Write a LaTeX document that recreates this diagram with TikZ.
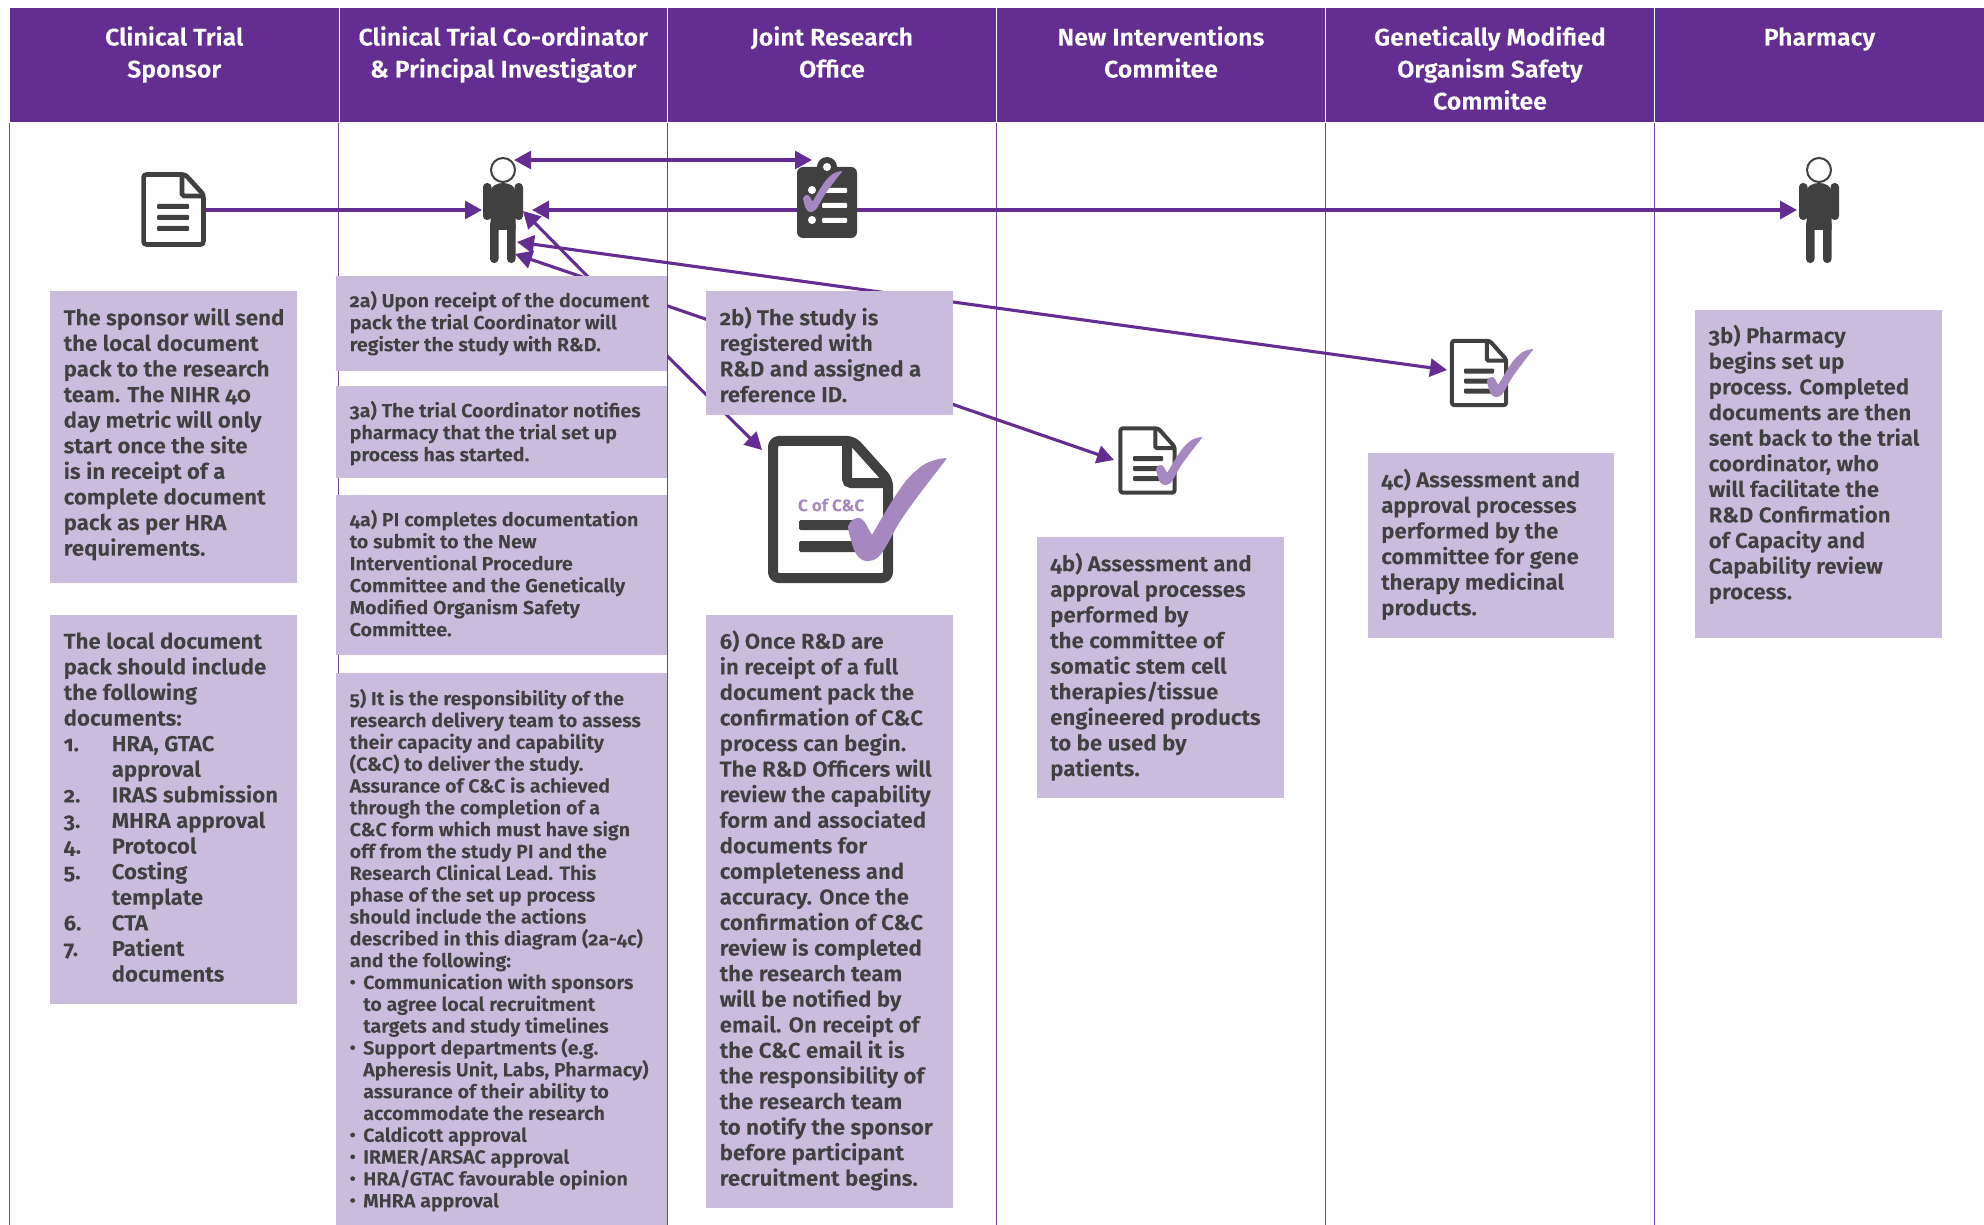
\documentclass[tikz,border=0pt]{standalone}
\usepackage{fontspec}
\setmainfont{Fira Sans}[Numbers=OldStyle,UprightFont=* SemiBold,FakeStretch=1.035,FakeBold=0.12]
\usetikzlibrary{arrows.meta}
\definecolor{hdr}{HTML}{642D91}
\definecolor{pan}{HTML}{C9BCDC}
\definecolor{ink}{HTML}{404040}
\definecolor{grid}{HTML}{6F45A0}
\definecolor{chk}{HTML}{A488BF}
\pgfdeclarelayer{back}\pgfdeclarelayer{gridl}
\pgfsetlayers{gridl,back,main}
\tikzset{
 panelbox/.style={fill=pan,anchor=north west,inner sep=0pt,text=ink},
 headbox/.style={fill=hdr,draw=white,line width=1pt,anchor=north west,inner sep=0pt,text=white},
 flow/.style={draw=hdr,line width=3.1pt,-{Triangle[length=17pt,width=18pt]}},
 flowb/.style={draw=hdr,line width=3.1pt,{Triangle[length=17pt,width=18pt]}-{Triangle[length=17pt,width=18pt]}},
 gridline/.style={draw=grid,line width=1pt},
}
\newcommand\panelnode[9]{\node[panelbox] (#1) at (#2,#3) {\parbox[t][\dimexpr #5pt-#3pt\relax][t]{\dimexpr #4pt-#2pt\relax}{\fontsize{#8pt}{#7pt}\selectfont\parindent=0pt\leftskip=13.5pt\rightskip=-40pt plus 1fil\relax\vspace*{\dimexpr #6pt-#3pt-#7pt\relax}\prevdepth=0pt #9}};}
\newcommand\headnode[4]{\node[headbox] (#1) at (#2,7) {\parbox[t][115pt][t]{\dimexpr #3pt-#2pt\relax}{\fontsize{24pt}{32pt}\selectfont\centering\vspace*{6pt}\prevdepth=0pt #4}};}
\newcommand\numit[1]{\makebox[48pt][l]{#1}}
\newcommand\numin{\hspace*{48pt}}
\newcommand\bulit{\makebox[13.5pt][l]{\raisebox{1pt}{\fontsize{17pt}{17pt}\selectfont•}}}
\newcommand\bulin{\hspace*{13.5pt}}
\newcommand\docicon[5]{%
 \begin{scope}[shift={(#1,#2)},xscale=#3,yscale=#4]
  \draw[draw=ink,fill=white,line width=#5pt,line join=round,rounded corners=#5*.6pt] (.04,.034)--(.68,.034)--(.96,.30)--(.96,.966)--(.04,.966)--cycle;
  \draw[draw=ink,line width=#5pt,rounded corners=#5*.4pt] (.632,.034)--(.632,.32)--(.96,.32);
 \end{scope}}
\newcommand\checkm[4]{%
 \begin{scope}[shift={(#1,#2)},xscale=#3,yscale=#4]
  \fill[chk] (0,.665) .. controls (.02,.6) and (.09,.57) .. (.125,.585) .. controls (.17,.6) and (.2,.68) .. (.245,.746) .. controls (.35,.58) and (.55,.22) .. (.7,.12) .. controls (.77,.05) and (.88,.01) .. (1,0) -- (1,.016) .. controls (.85,.2) and (.6,.5) .. (.5,.665) .. controls (.42,.8) and (.37,.9) .. (.33,.94) .. controls (.28,1) and (.22,1) .. (.19,1) .. controls (.12,1) and (.06,.92) .. (.04,.826) .. controls (.02,.76) and (0,.7) .. (0,.665) -- cycle;
 \end{scope}}
\newcommand\person[2]{%
 \begin{scope}[shift={(#1,#2)}]
  \draw[draw=ink,fill=white,line width=2pt] (0,-40) circle[x radius=12,y radius=12];
  \fill[ink] (-12.5,20) -- (-12.5,-18) .. controls (-12.5,-24) and (-6,-27) .. (0,-27) .. controls (6,-27) and (12.5,-24) .. (12.5,-18) -- (12.5,20) -- cycle;
  \fill[ink,rounded corners=4pt] (-20,-27) rectangle (-11.5,10);
  \fill[ink,rounded corners=4pt] (11.5,-27) rectangle (20,10);
  \fill[ink,rounded corners=4pt] (-13,10) rectangle (-4.5,53);
  \fill[ink,rounded corners=4pt] (4,10) rectangle (12.5,53);
 \end{scope}}
\begin{document}
\begin{tikzpicture}[x=1pt,y=-1pt]
\useasboundingbox (0,0) rectangle (1984,1225);
\headnode{h1}{9}{338.5}{Clinical Trial\\Sponsor}
\headnode{h2}{338.5}{667}{Clinical Trial Co-ordinator\\\& Principal Investigator}
\headnode{h3}{667}{996}{Joint Research\\Office}
\headnode{h4}{996}{1325}{New Interventions\\Commitee}
\headnode{h5}{1325}{1654}{Genetically Modified\\Organism Safety\\Commitee}
\headnode{h6}{1654}{1984}{Pharmacy}
\panelnode{s1}{50}{291}{297}{583}{325}{25.6}{21.5}{The sponsor will send\\the local document\\pack to the research\\team. The NIHR 40\\day metric will only\\start once the site\\is in receipt of a\\complete document\\pack as per HRA\\requirements.}
\panelnode{s2}{50}{615}{297}{1004}{648.5}{25.6}{21.5}{The local document\\pack should include\\the following\\documents:\\\numit{1.}HRA, GTAC\\\numin approval\\\numit{2.}IRAS submission\\\numit{3.}MHRA approval\\\numit{4.}Protocol\\\numit{5.}Costing\\\numin template\\\numit{6.}CTA\\\numit{7.}Patient\\\numin documents}
\panelnode{a2}{336}{276}{667}{370.5}{307}{22}{19}{2a) Upon receipt of the document\\pack the trial Coordinator will\\register the study with R\&D.}
\panelnode{a3}{336}{386}{667}{477.5}{417}{22}{19}{3a) The trial Coordinator notifies\\pharmacy that the trial set up\\process has started.}
\panelnode{a4}{336}{495}{667}{654.5}{526}{22}{19}{4a) PI completes documentation\\to submit to the New\\Interventional Procedure\\Committee and the Genetically\\Modified Organism Safety\\Committee.}
\panelnode{a5}{336}{672.5}{667}{1225}{705}{21.83}{19}{5) It is the responsibility of the\\research delivery team to assess\\their capacity and capability\\(C\&C) to deliver the study.\\Assurance of C\&C is achieved\\through the completion of a\\C\&C form which must have sign\\off from the study PI and the\\Research Clinical Lead. This\\phase of the set up process\\should include the actions\\described in this diagram (2a-4c)\\and the following:\\\bulit Communication with sponsors\\\bulin to agree local recruitment\\\bulin targets and study timelines\\\bulit Support departments (e.g.\\\bulin Apheresis Unit, Labs, Pharmacy)\\\bulin assurance of their ability to\\\bulin accommodate the research\\\bulit Caldicott approval\\\bulit IRMER/ARSAC approval\\\bulit HRA/GTAC favourable opinion\\\bulit MHRA approval}
\panelnode{b2}{706}{291}{953}{415}{325}{25.6}{21.5}{2b) The study is\\registered with\\R\&D and assigned a\\reference ID.}
\panelnode{b6}{706}{615}{953}{1207.5}{648.5}{25.57}{21.5}{6) Once R\&D are\\in receipt of a full\\document pack the\\confirmation of C\&C\\process can begin.\\The R\&D Officers will\\review the capability\\form and associated\\documents for\\completeness and\\accuracy. Once the\\confirmation of C\&C\\review is completed\\the research team\\will be notified by\\email. On receipt of\\the C\&C email it is\\the responsibility of\\the research team\\to notify the sponsor\\before participant\\recruitment begins.}
\panelnode{n4}{1036.5}{537}{1283.5}{797.5}{571}{25.6}{21.5}{4b) Assessment and\\approval processes\\performed by\\the committee of\\somatic stem cell\\therapies/tissue\\engineered products\\to be used by\\patients.}
\panelnode{g4}{1367.5}{453}{1614}{638}{487}{25.6}{21.5}{4c) Assessment and\\approval processes\\performed by the\\committee for gene\\therapy medicinal\\products.}
\panelnode{p3}{1695}{310}{1942}{638}{343}{25.6}{21.5}{3b) Pharmacy\\begins set up\\process. Completed\\documents are then\\sent back to the trial\\coordinator, who\\will facilitate the\\R\&D Confirmation\\of Capacity and\\Capability review\\process.}
% icons
\docicon{141}{172}{65}{75}{4.7}
\fill[ink,rounded corners=1pt] (157,204) rectangle (189,209) (157,215) rectangle (189,220) (157,226) rectangle (189,231);
\person{503}{210}
\person{1819}{210}
% clipboard
\fill[ink] (827,167) circle[radius=10];
\fill[ink,rounded corners=6pt] (797,167) rectangle (857,238);
\fill[white] (827,167) circle[radius=4];
\fill[white] (812,190) circle[radius=4] (812,205) circle[radius=4] (812,220) circle[radius=4];
\fill[white,rounded corners=1pt] (822,188) rectangle (847,193) (822,203) rectangle (847,208) (822,218) rectangle (847,223);
\checkm{803}{171}{39}{41}
% C of C&C document
\docicon{768}{436}{125}{147}{10}
\fill[ink,rounded corners=1.5pt] (799,520) rectangle (860,530) (799,541) rectangle (860,552);
\node[text=chk,inner sep=0pt,font=\fontsize{16.5}{16.5}\selectfont] (cc) at (831,505) {C of C\&C};
\checkm{848}{458}{98}{103}
% 4b document
\docicon{1118}{426}{59}{69}{4}
\fill[ink,rounded corners=1pt] (1133,456) rectangle (1163,461) (1133,466) rectangle (1163,471) (1133,476) rectangle (1163,481);
\checkm{1156}{437}{46}{48}
% 4c document
\docicon{1449.5}{338.5}{59}{69}{4}
\fill[ink,rounded corners=1pt] (1464,368.5) rectangle (1494,373.5) (1464,378.5) rectangle (1494,383.5) (1464,388.5) rectangle (1494,393.5);
\checkm{1487}{349}{46}{48}
% anchors of the connectors
\coordinate (sd) at (205,210);
\coordinate (p1w) at (482,210);
\coordinate (p1e) at (532,210);
\coordinate (phw) at (1797,210);
\coordinate (p1t) at (514,160);
\coordinate (clip) at (812,160);
\coordinate (p1m) at (523,211);
\coordinate (p1l) at (515,254);
\coordinate (p1c) at (517,242);
\coordinate (gd) at (1447,370);
\coordinate (nd) at (1114,460);
\coordinate (cd) at (762,450);
\coordinate (a2i1) at (601,290);
\coordinate (a2i2) at (600,283);
\coordinate (a2i3) at (630,293);
\coordinate (a2i4) at (640,329);
\begin{pgfonlayer}{gridl}
\foreach \gx in {9,338.5,667,996,1325,1654} \draw[gridline] (\gx,122) -- (\gx,1225);
\end{pgfonlayer}
\begin{pgfonlayer}{back}
\draw[flow] (sd) -- (p1w);
\draw[flowb] (p1e) -- (phw);
\draw[flowb] (p1t) -- (clip);
\draw[flow] (a2i1) -- (p1m);
\draw[flow] (a2i2) -- (p1l);
\draw[flowb] (p1c) -- (gd);
\draw[flow] (a2i3) -- (nd);
\draw[flow] (a2i4) -- (cd);
\end{pgfonlayer}
\end{tikzpicture}
\end{document}
